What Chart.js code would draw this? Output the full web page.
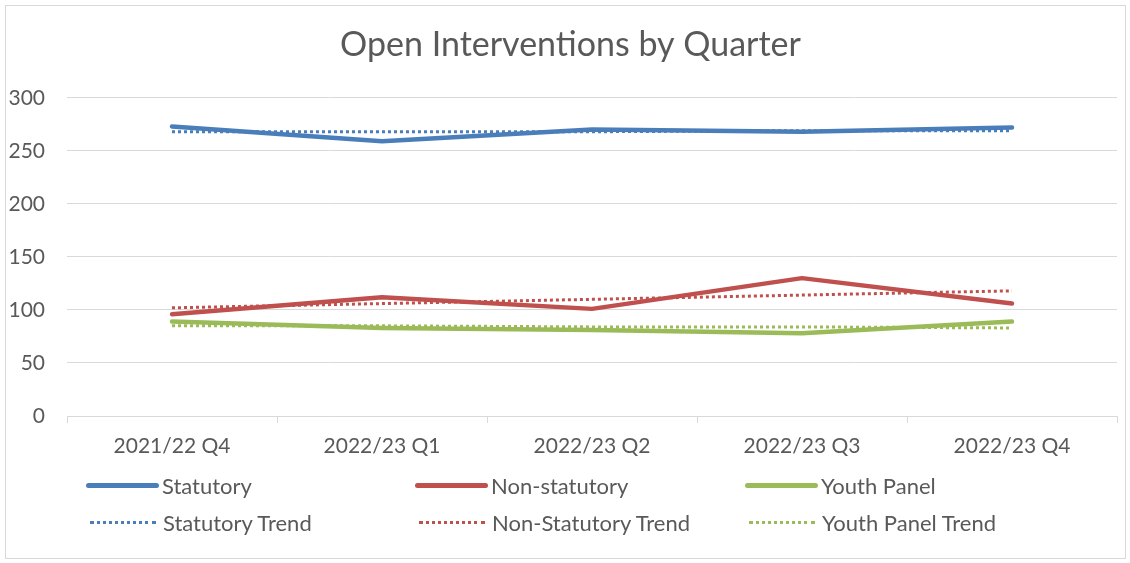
<!DOCTYPE html>
<html>
<head>
<meta charset="utf-8">
<script src="https://cdn.jsdelivr.net/npm/chart.js@4.4.1/dist/chart.umd.min.js"></script>
<style>
html,body{margin:0;padding:0;background:#fff;}
#wrap{position:relative;width:1130px;height:563px;overflow:hidden;}
#frame{position:absolute;left:5px;top:5px;width:1121px;height:554px;border:1px solid #d9d9d9;box-sizing:border-box;pointer-events:none;}
#chart{position:absolute;left:0;top:0;}
.lg{position:absolute;display:flex;align-items:center;font-family:Lato,"Open Sans",sans-serif;font-size:22px;color:#595959;white-space:nowrap;height:30px;}
.sw{width:73px;margin-right:3px;box-sizing:border-box;}
</style>
</head>
<body>
<div id="wrap">
  <canvas id="chart" width="1130" height="563"></canvas>
  <div id="legend"></div>
  <div id="frame"></div>
</div>
<script>
const quarters = ['2021/22 Q4', '2022/23 Q1', '2022/23 Q2', '2022/23 Q3', '2022/23 Q4'];
const statutory = [273, 259, 270, 268, 272];
const nonStatutory = [96, 112, 101, 130, 106];
const youthPanel = [89, 83, 81, 78, 89];
const statutoryTrend = [268, 268, 268, 269, 269];
const nonStatutoryTrend = [102, 106, 110, 114, 118];
const youthPanelTrend = [85, 85, 84, 84, 83];
const yTicks = [0, 50, 100, 150, 200, 250, 300];

const BLUE = '#4a7ebb', RED = '#c0504d', GREEN = '#9bbb59';
const GRID = '#d9d9d9', TEXT = '#595959';
const FONT = 'Lato, "Open Sans", sans-serif';

function solid(label, data, color) {
  return { label, data, borderColor: color, backgroundColor: color, borderWidth: 4.5,
    pointRadius: 0, tension: 0, borderCapStyle: 'round', borderJoinStyle: 'round', order: 1, fill: false };
}
function trend(label, data, color) {
  return { label, data, borderColor: color, backgroundColor: color, borderWidth: 3,
    borderDash: [3, 3], pointRadius: 0, tension: 0, borderCapStyle: 'butt', order: 0, fill: false, trend: true };
}

const datasets = [
  solid('Statutory', statutory, BLUE),
  solid('Non-statutory', nonStatutory, RED),
  solid('Youth Panel', youthPanel, GREEN),
  trend('Statutory Trend', statutoryTrend, BLUE),
  trend('Non-Statutory Trend', nonStatutoryTrend, RED),
  trend('Youth Panel Trend', youthPanelTrend, GREEN)
];

const titleShift = {
  id: 'titleShift',
  afterLayout(chart) {
    const t = chart.titleBlock;
    if (t) { t.left += 12; t.right += 12; }
  }
};

new Chart(document.getElementById('chart'), {
  type: 'line',
  data: { labels: quarters, datasets },
  plugins: [titleShift],
  options: {
    responsive: false,
    animation: false,
    devicePixelRatio: 1,
    layout: { padding: { top: 0, left: 0, right: 13, bottom: 107 } },
    plugins: {
      legend: { display: false },
      tooltip: { enabled: false },
      title: {
        display: true,
        text: 'Open Interventions by Quarter',
        color: TEXT,
        font: { family: FONT, size: 34, weight: 'normal', lineHeight: 1.2 },
        padding: { top: 25, bottom: 32 }
      }
    },
    scales: {
      x: {
        offset: true,
        grid: { display: true, drawOnChartArea: false, drawTicks: true, tickLength: 7, color: GRID, offset: true },
        border: { display: true, color: GRID, width: 1 },
        ticks: { color: TEXT, font: { family: FONT, size: 21 }, padding: 11, maxRotation: 0, autoSkip: false },
        afterFit: s => { s.height = 40; }
      },
      y: {
        min: 0, max: 300,
        afterBuildTicks: s => { s.ticks = yTicks.map(v => ({ value: v })); },
        grid: { color: GRID, drawTicks: false, lineWidth: 1 },
        border: { display: false },
        ticks: { color: TEXT, font: { family: FONT, size: 21 }, padding: 22 },
        afterFit: s => { s.width = 67; }
      }
    }
  }
});

// HTML legend built from datasets
const cols = [86, 415, 745];
const rows = [485, 522];
const lg = document.getElementById('legend');
datasets.forEach((d, i) => {
  const el = document.createElement('div');
  el.className = 'lg';
  el.style.left = cols[i % 3] + 'px';
  el.style.top = (rows[Math.floor(i / 3)] - 15) + 'px';
  const sw = document.createElement('div');
  sw.className = 'sw';
  if (d.trend) {
    sw.style.borderTop = '3px dotted ' + d.borderColor;
    sw.style.width = '66px';
    sw.style.marginLeft = '4px';
    sw.style.marginRight = '7px';
  } else {
    sw.style.height = '5px';
    sw.style.borderRadius = '3px';
    sw.style.background = d.borderColor;
  }
  el.appendChild(sw);
  const t = document.createElement('span');
  t.textContent = d.label;
  el.appendChild(t);
  lg.appendChild(el);
});
</script>
</body>
</html>
